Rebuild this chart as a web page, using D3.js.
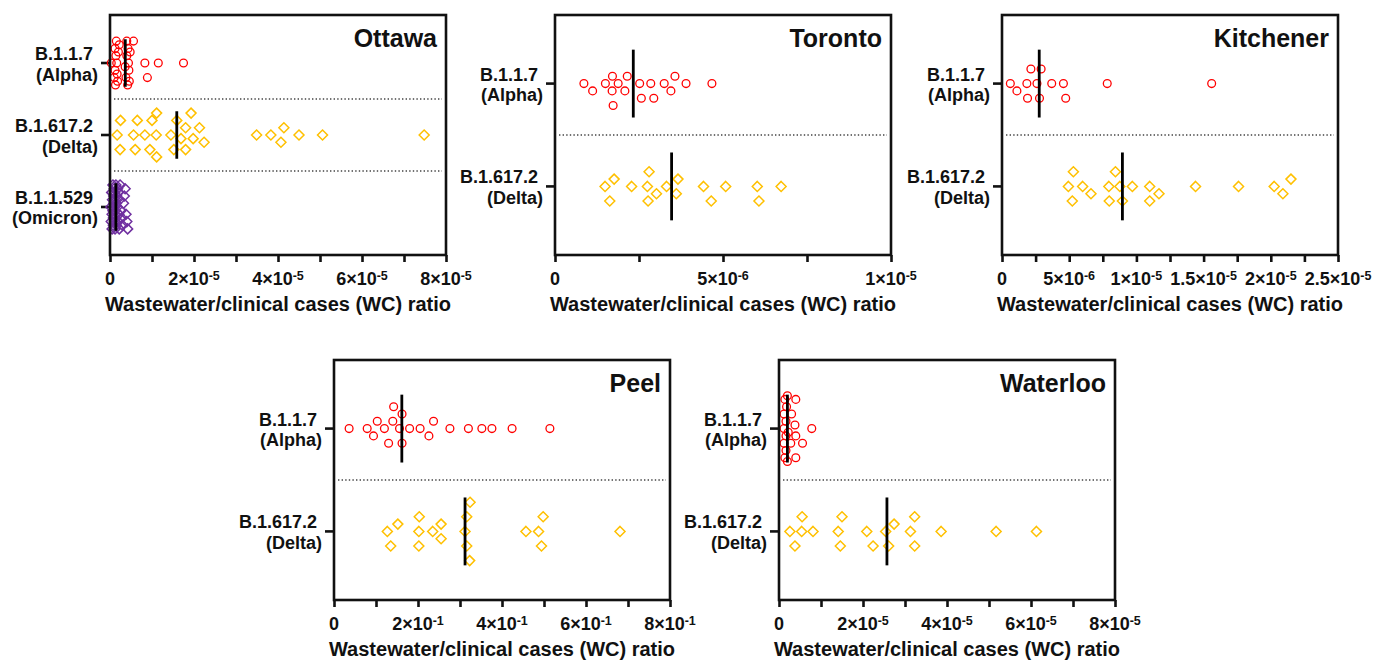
<!DOCTYPE html>
<html>
<head>
<meta charset="utf-8">
<script src="https://cdn.jsdelivr.net/npm/d3@7"></script>
<style>
  body { margin: 0; background: #fff; }
  text { font-family: "Liberation Sans", Arial, sans-serif; font-weight: bold; fill: #111; }
</style>
</head>
<body>
<div id="vis"></div>
<script>
// values (wastewater / clinical cases ratio)
const variantLabels = [["B.1.1.7", "(Alpha)"], ["B.1.617.2", "(Delta)"], ["B.1.1.529", "(Omicron)"]];

const ottawaAlpha = [0.03e-5, 0.1e-5, 0.12e-5, 0.12e-5, 0.13e-5, 0.14e-5, 0.15e-5, 0.16e-5, 0.17e-5, 0.18e-5, 0.2e-5, 0.22e-5,
  0.36e-5, 0.38e-5, 0.4e-5, 0.4e-5, 0.42e-5, 0.43e-5, 0.44e-5, 0.45e-5, 0.46e-5, 0.48e-5, 0.56e-5, 0.83e-5, 0.89e-5, 1.15e-5, 1.75e-5];
const ottawaDelta = [0.17e-5, 0.24e-5, 0.25e-5, 0.56e-5, 0.6e-5, 0.65e-5, 0.83e-5, 0.95e-5, 1.0e-5, 1.1e-5, 1.11e-5, 1.11e-5, 1.45e-5,
  1.52e-5, 1.59e-5, 1.69e-5, 1.8e-5, 1.8e-5, 1.93e-5, 1.98e-5, 2.13e-5, 2.24e-5, 3.49e-5, 3.83e-5, 4.07e-5, 4.14e-5, 4.5e-5, 5.06e-5, 7.48e-5];
const ottawaOmicron = [0.02e-5, 0.03e-5, 0.04e-5, 0.05e-5, 0.05e-5, 0.06e-5, 0.07e-5, 0.07e-5, 0.08e-5, 0.08e-5, 0.09e-5, 0.09e-5,
  0.1e-5, 0.1e-5, 0.11e-5, 0.11e-5, 0.12e-5, 0.12e-5, 0.13e-5, 0.13e-5, 0.14e-5, 0.14e-5, 0.15e-5, 0.15e-5, 0.16e-5, 0.17e-5,
  0.18e-5, 0.19e-5, 0.2e-5, 0.21e-5, 0.22e-5, 0.23e-5, 0.24e-5, 0.26e-5, 0.28e-5, 0.3e-5, 0.32e-5, 0.34e-5, 0.36e-5, 0.38e-5,
  0.4e-5, 0.42e-5];
const ottawaMedians = [0.364e-5, 1.59e-5, 0.14e-5];
const ottawaTicks = [0, 2e-5, 4e-5, 6e-5, 8e-5];

const torontoAlpha = [0.86e-6, 1.12e-6, 1.5e-6, 1.7e-6, 1.71e-6, 1.73e-6, 1.88e-6, 2.08e-6, 2.15e-6, 2.52e-6, 2.57e-6, 2.85e-6,
  2.94e-6, 3.25e-6, 3.45e-6, 3.57e-6, 3.9e-6, 4.67e-6];
const torontoDelta = [1.49e-6, 1.63e-6, 1.76e-6, 2.28e-6, 2.75e-6, 2.77e-6, 2.8e-6, 3.02e-6, 3.32e-6, 3.61e-6, 3.66e-6, 4.42e-6,
  4.65e-6, 5.08e-6, 6.02e-6, 6.07e-6, 6.73e-6];
const torontoMedians = [2.33e-6, 3.47e-6];
const torontoTicks = [0, 5e-6, 1e-5];

const kitchenerAlpha = [0.62e-6, 1.11e-6, 1.85e-6, 1.9e-6, 2.15e-6, 2.6e-6, 2.79e-6, 2.91e-6, 3.7e-6, 4.57e-6, 4.74e-6, 7.83e-6, 15.6e-6];
const kitchenerDelta = [4.94e-6, 5.23e-6, 5.31e-6, 6.0e-6, 6.62e-6, 7.95e-6, 7.98e-6, 8.44e-6, 8.77e-6, 8.96e-6, 9.7e-6, 10.99e-6,
  10.99e-6, 11.68e-6, 14.4e-6, 17.6e-6, 20.25e-6, 20.9e-6, 21.5e-6];
const kitchenerMedians = [2.77e-6, 8.96e-6];
const kitchenerTicks = [0, 5e-6, 1e-5, 1.5e-5, 2e-5, 2.5e-5];

const peelAlpha = [0.036, 0.079, 0.094, 0.103, 0.12, 0.13, 0.14, 0.142, 0.156, 0.162, 0.162, 0.18, 0.205, 0.226, 0.237, 0.276,
  0.32, 0.352, 0.376, 0.424, 0.514];
const peelDelta = [0.127, 0.135, 0.152, 0.202, 0.202, 0.203, 0.235, 0.255, 0.255, 0.312, 0.316, 0.316, 0.323, 0.324, 0.457,
  0.487, 0.494, 0.498, 0.681];
const peelMedians = [0.1615, 0.312];
const peelTicks = [0, 0.2, 0.4, 0.6, 0.8];

const waterlooAlpha = [0.12e-5, 0.12e-5, 0.12e-5, 0.14e-5, 0.14e-5, 0.166e-5, 0.166e-5, 0.166e-5, 0.18e-5, 0.2e-5, 0.2e-5,
  0.22e-5, 0.28e-5, 0.3e-5, 0.38e-5, 0.4e-5, 0.4e-5, 0.4e-5, 0.56e-5, 0.78e-5];
const waterlooDelta = [0.26e-5, 0.38e-5, 0.54e-5, 0.55e-5, 0.81e-5, 1.41e-5, 1.46e-5, 1.5e-5, 2.09e-5, 2.24e-5, 2.54e-5, 2.61e-5,
  2.74e-5, 3.13e-5, 3.23e-5, 3.23e-5, 3.86e-5, 5.17e-5, 6.13e-5];
const waterlooMedians = [0.2e-5, 2.57e-5];
const waterlooTicks = [0, 2e-5, 4e-5, 6e-5, 8e-5];

const variantColors = ["#ff0000", "#ffc000", "#7030a0"];
const axisTitle = "Wastewater/clinical cases (WC) ratio";

const W = 336, H = 240;

let svg = d3.select('#vis')
  .append('svg')
    .attr('width', 1388)
    .attr('height', 662)
    .style('background-color', '#fff');

// Prism-like scatter: stack points in rows, squeeze them when crowded
function swarm(vals, x, maxOff, diam) {
  let pts = vals.map(v => ({ v: v, px: x(v), off: 0 })).sort((a, b) => a.px - b.px);
  let placed = [];
  let rowStep = 7.3;
  let cands = st => {
    let c = [0];
    for (let k = 1; k * st <= maxOff + 0.01; k++) c.push(k * st, -k * st);
    return c;
  };
  let coarse = cands(rowStep), finer = cands(rowStep / 2);
  let minDist = (p, off) => {
    let m = d3.min(placed, q => Math.hypot(q.px - p.px, q.off - off));
    return m === undefined ? Infinity : m;
  };
  pts.forEach(p => {
    let off = coarse.find(o => minDist(p, o) >= diam);
    if (off === undefined) {
      off = 0;
      finer.forEach(o => { if (minDist(p, o) > minDist(p, off) + 0.01) off = o; });
    }
    p.off = off;
    placed.push(p);
  });
  return pts;
}

function tickLabel(sel, v) {
  if (v === 0) { sel.append('tspan').text('0'); return; }
  let e = Math.floor(Math.log10(v) + 1e-9);
  let m = +(v / Math.pow(10, e)).toFixed(2);
  sel.append('tspan').text(m + '\u00d710');
  sel.append('tspan').attr('dy', -5.5).attr('font-size', 12.5).text(e);
}

function drawPanel(name, left, top, series, medians, ticks) {
  let g = svg.append('g');
  let x = d3.scaleLinear().domain([0, d3.max(ticks)]).range([left, left + W]);
  let y = d3.scalePoint().domain(d3.range(series.length)).range([top, top + H]).padding(0.667);
  let step = y.step();

  // dotted separators
  for (let i = 1; i < series.length; i++) {
    let ym = (y(i - 1) + y(i)) / 2;
    g.append('line')
      .attr('x1', left + 4).attr('x2', left + W - 4)
      .attr('y1', ym).attr('y2', ym)
      .attr('stroke', '#444').attr('stroke-width', 1.3)
      .attr('stroke-dasharray', '1.4,2.2');
  }

  // x axis ticks (major + minor)
  let minor = d3.pairs(ticks).map(p => (p[0] + p[1]) / 2);
  let ax = g.append('g')
    .attr('transform', 'translate(0,' + (top + H) + ')')
    .call(d3.axisBottom(x).tickValues(ticks.concat(minor)).tickSize(7).tickFormat(''));
  ax.select('.domain').remove();
  ax.selectAll('line').attr('stroke', '#111').attr('stroke-width', 2.6);

  g.selectAll('.tl')
    .data(ticks)
    .enter().append('text')
      .attr('class', 'tl')
      .attr('x', d => x(d))
      .attr('y', top + H + 30)
      .attr('text-anchor', 'middle')
      .attr('font-size', 18)
      .each(function(d) { tickLabel(d3.select(this), d); });

  // category ticks and labels
  series.forEach((s, i) => {
    g.append('line')
      .attr('x1', left - 9).attr('x2', left)
      .attr('y1', y(i)).attr('y2', y(i))
      .attr('stroke', '#111').attr('stroke-width', 2.6);
    g.append('text')
      .attr('x', left - 17).attr('y', y(i) - 3)
      .attr('text-anchor', 'end').attr('font-size', 18)
      .text(variantLabels[i][0]);
    g.append('text')
      .attr('x', left - 12).attr('y', y(i) + 17.5)
      .attr('text-anchor', 'end').attr('font-size', 18)
      .text(variantLabels[i][1]);
  });

  // points
  series.forEach((s, i) => {
    let diam = i === 0 ? 9 : 11;
    let pts = swarm(s, x, 0.3 * step + 2, diam);
    let sel = g.append('g').selectAll('.pt').data(pts).enter();
    if (i === 0) {
      sel.append('circle')
        .attr('cx', d => d.px)
        .attr('cy', d => y(i) + d.off)
        .attr('r', 3.9)
        .attr('fill', 'none')
        .attr('stroke', variantColors[i])
        .attr('stroke-width', 1.3);
    } else {
      sel.append('path')
        .attr('d', 'M0,-5L5,0L0,5L-5,0Z')
        .attr('transform', d => 'translate(' + d.px + ',' + (y(i) + d.off) + ')')
        .attr('fill', 'none')
        .attr('stroke', variantColors[i])
        .attr('stroke-width', 1.5);
    }
  });

  // median lines
  medians.forEach((m, i) => {
    g.append('line')
      .attr('x1', x(m)).attr('x2', x(m))
      .attr('y1', y(i) - 0.33 * step).attr('y2', y(i) + 0.33 * step)
      .attr('stroke', '#000').attr('stroke-width', 2.8);
  });

  // frame
  g.append('rect')
    .attr('x', left).attr('y', top)
    .attr('width', W).attr('height', H)
    .attr('fill', 'none')
    .attr('stroke', '#111').attr('stroke-width', 2.6);

  g.append('text')
    .attr('x', left + W - 9).attr('y', top + 32)
    .attr('text-anchor', 'end').attr('font-size', 25)
    .text(name);

  g.append('text')
    .attr('x', left + W / 2).attr('y', top + H + 56)
    .attr('text-anchor', 'middle').attr('font-size', 20)
    .text(axisTitle);
}

drawPanel('Ottawa', 110, 15, [ottawaAlpha, ottawaDelta, ottawaOmicron], ottawaMedians, ottawaTicks);
drawPanel('Toronto', 555, 15, [torontoAlpha, torontoDelta], torontoMedians, torontoTicks);
drawPanel('Kitchener', 1002, 15, [kitchenerAlpha, kitchenerDelta], kitchenerMedians, kitchenerTicks);
drawPanel('Peel', 334, 360, [peelAlpha, peelDelta], peelMedians, peelTicks);
drawPanel('Waterloo', 779, 360, [waterlooAlpha, waterlooDelta], waterlooMedians, waterlooTicks);
</script>
</body>
</html>
